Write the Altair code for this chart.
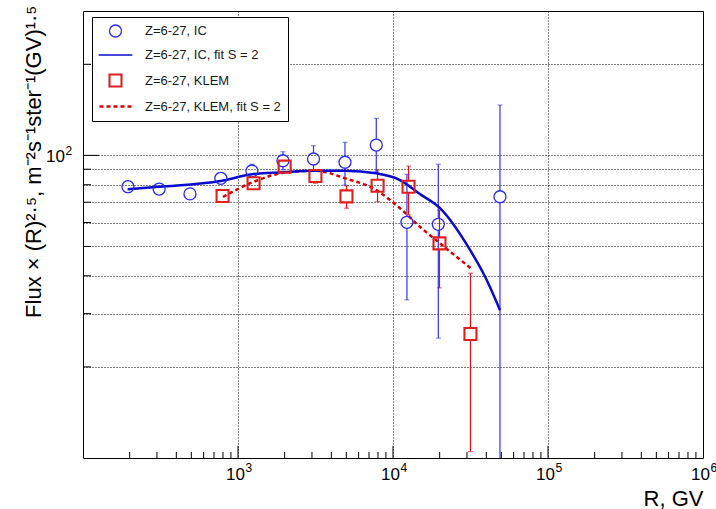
import altair as alt
import pandas as pd

# ---------------- data ----------------
ic_r = [195, 310, 490, 775, 1230, 1950, 3070, 4900, 7800, 12300, 19600, 49000]
ic_flux = [78.8, 77.4, 74.6, 84.0, 88.8, 96.0, 97.3, 94.9, 108.2, 60.1, 59.2, 73.0]
ic_lo = [77.5, 76.2, 73.5, 82.8, 85.0, 89.5, 89.5, 79.8, 88.3, 33.3, 24.9, 8.0]
ic_hi = [80.0, 78.6, 75.7, 85.2, 93.5, 102.8, 107.6, 110.5, 132.6, 86.6, 93.5, 146.7]

kl_r = [795, 1260, 2000, 3160, 5010, 7950, 12600, 19950, 31600]
kl_flux = [73.4, 80.9, 91.8, 85.5, 73.2, 79.4, 78.8, 51.2, 25.7]
kl_lo = [72.3, 79.7, 90.4, 80.9, 66.9, 70.3, 63.6, 36.5, 10.5]
kl_hi = [74.5, 82.1, 93.2, 89.5, 79.4, 89.5, 92.2, 66.0, 40.8]

fit_ic_r = [194, 309, 773, 1230, 1940, 3060, 4900, 7770, 11100, 14900, 20100, 31400, 39300, 49000]
fit_ic_flux = [77.3, 78.8, 82.3, 86.6, 87.9, 89.0, 89.0, 87.3, 82.9, 74.5, 66.9, 48.7, 39.7, 30.8]

fit_kl_r = [800, 1270, 2000, 3180, 4900, 7770, 11100, 14900, 20100, 31700]
fit_kl_flux = [72.9, 81.9, 87.7, 89.0, 84.0, 76.9, 66.9, 58.1, 51.2, 42.4]

series_names = ["Z=6-27, IC", "Z=6-27, IC, fit S = 2", "Z=6-27, KLEM", "Z=6-27, KLEM, fit S = 2"]

x_label_vals = [1000, 10000, 100000, 1000000]
x_label_base = ["10", "10", "10", "10"]
x_label_exp = ["3", "4", "5", "6"]
y_grid_vals = [20, 30, 40, 50, 60, 70, 80, 90, 100, 200]
y_label_vals = [100]
y_label_base = ["10"]
y_label_exp = ["2"]

x_major_ticks = [1000, 10000, 100000]
x_minor_ticks = [m * 10 ** e for e in range(2, 6) for m in range(2, 10)]
y_major_ticks = [100]
y_minor_ticks = [20, 30, 40, 50, 60, 70, 80, 90, 200]

# ---------------- styling ----------------
W, H = 620, 447
FONT = "Liberation Sans"
C_IC = "#2a2aee"
C_IC_FIT = "#0a0acc"
C_KL = "#dd2020"
C_KL_FIT = "#d40000"
MARK_R = 1.047  # marker radius (6 px) as a log-scale factor

line_path = "M-2.8,0H2.8"
dash_path = "M-2.67,0H-2.0M-1.5,0H-0.83M-0.33,0H0.33M0.83,0H1.5M2.0,0H2.67"

xs = alt.Scale(type="log", domain=[100, 1000000], nice=False)
ys = alt.Scale(type="log", domain=[10, 300], nice=False)

xaxis = alt.Axis(
    values=x_label_vals, labels=False, grid=True, gridDash=[1, 2], gridColor="black",
    gridWidth=1, ticks=False, domain=False,
    title="R, GV", titleFont=FONT, titleFontSize=22, titleFontWeight="normal",
    titleColor="black", titleX=W, titleY=47, titleAlign="right", titleBaseline="alphabetic",
)
yaxis = alt.Axis(
    values=y_grid_vals, labels=False, grid=True, gridDash=[1, 2], gridColor="black",
    gridWidth=1, ticks=False, domain=False,
    title="Flux × (R)²·⁵, m⁻²s⁻¹ster⁻¹(GV)¹·⁵", titleFont=FONT, titleFontSize=22,
    titleFontWeight="normal", titleColor="black", titleAngle=270, titleX=-43, titleY=-6,
    titleAlign="right", titleBaseline="alphabetic",
)


def X(f):
    return alt.X(f, type="quantitative", scale=xs, axis=xaxis)


def Y(f):
    return alt.Y(f, type="quantitative", scale=ys, axis=yaxis)


# ---------------- tables ----------------
ic_df = pd.DataFrame({"r": ic_r, "flux": ic_flux, "lo": ic_lo, "hi": ic_hi, "series": series_names[0]})
kl_df = pd.DataFrame({"r": kl_r, "flux": kl_flux, "lo": kl_lo, "hi": kl_hi, "series": series_names[2]})
pts_df = pd.concat([ic_df, kl_df], ignore_index=True)
fit_ic_df = pd.DataFrame({"r": fit_ic_r, "flux": fit_ic_flux})
fit_kl_df = pd.DataFrame({"r": fit_kl_r, "flux": fit_kl_flux})
xlab_df = pd.DataFrame({"r": x_label_vals, "base": x_label_base, "exp": x_label_exp})
ylab_df = pd.DataFrame({"flux": y_label_vals, "base": y_label_base, "exp": y_label_exp})

# ---------------- layers ----------------
base_grid = alt.Chart(pd.DataFrame({"r": [100], "flux": [100]})).mark_point(opacity=0).encode(
    x=X("r"), y=Y("flux")
)

xt_major = alt.Chart(pd.DataFrame({"r": x_major_ticks})).mark_rule(color="black", strokeWidth=1).encode(
    x=X("r"), y=alt.value(H), y2=alt.value(H - 12)
)
xt_minor = alt.Chart(pd.DataFrame({"r": x_minor_ticks})).mark_rule(color="black", strokeWidth=1).encode(
    x=X("r"), y=alt.value(H), y2=alt.value(H - 6)
)
yt_major = alt.Chart(pd.DataFrame({"flux": y_major_ticks})).mark_rule(color="black", strokeWidth=1).encode(
    y=Y("flux"), x=alt.value(0), x2=alt.value(16)
)
yt_minor = alt.Chart(pd.DataFrame({"flux": y_minor_ticks})).mark_rule(color="black", strokeWidth=1).encode(
    y=Y("flux"), x=alt.value(0), x2=alt.value(8)
)

# tick labels of the form 10^n, with real raised exponents
xl_base = alt.Chart(xlab_df).mark_text(
    align="right", baseline="alphabetic", dx=7, font=FONT, fontSize=17, color="black"
).encode(x=X("r"), y=alt.value(H + 22), text="base:N")
xl_exp = alt.Chart(xlab_df).mark_text(
    align="left", baseline="alphabetic", dx=7.5, font=FONT, fontSize=12, color="black"
).encode(x=X("r"), y=alt.value(H + 14), text="exp:N")
yl_base = alt.Chart(ylab_df).mark_text(
    align="right", baseline="alphabetic", dy=7, font=FONT, fontSize=17, color="black"
).encode(y=Y("flux"), x=alt.value(-18), text="base:N")
yl_exp = alt.Chart(ylab_df).mark_text(
    align="left", baseline="alphabetic", dy=0, dx=0.5, font=FONT, fontSize=12, color="black"
).encode(y=Y("flux"), x=alt.value(-18), text="exp:N")


def error_layers(df, color):
    up = alt.Chart(df).transform_calculate(edge=f"datum.flux * {MARK_R}").transform_filter(
        "datum.hi > datum.edge"
    )
    dn = alt.Chart(df).transform_calculate(edge=f"datum.flux / {MARK_R}").transform_filter(
        "datum.lo < datum.edge"
    )
    return [
        up.mark_rule(color=color, strokeWidth=1.2, clip=True).encode(x=X("r"), y=Y("edge:Q"), y2="hi:Q"),
        dn.mark_rule(color=color, strokeWidth=1.2, clip=True).encode(x=X("r"), y=Y("lo:Q"), y2="edge:Q"),
        up.mark_tick(color=color, orient="horizontal", size=5, thickness=1, clip=True).encode(x=X("r"), y=Y("hi:Q")),
        dn.mark_tick(color=color, orient="horizontal", size=5, thickness=1, clip=True).encode(x=X("r"), y=Y("lo:Q")),
    ]


fit_ic = alt.Chart(fit_ic_df).mark_line(color=C_IC_FIT, strokeWidth=2.5, interpolate="monotone").encode(
    x=X("r"), y=Y("flux")
)
fit_kl = alt.Chart(fit_kl_df).mark_line(
    color=C_KL_FIT, strokeWidth=2.5, strokeDash=[4, 3], interpolate="monotone"
).encode(x=X("r"), y=Y("flux"))

legend = alt.Legend(
    title=None, orient="none", legendX=9, legendY=6, direction="vertical",
    symbolSize=144, symbolOffset=9, labelOffset=22, padding=7, rowPadding=8,
    labelFont=FONT, labelFontSize=13, labelColor="#1a1a1a", strokeColor="black",
    fillColor="white",
)

points = alt.Chart(pts_df).mark_point(filled=False, size=144, opacity=1).encode(
    x=X("r"), y=Y("flux"),
    shape=alt.Shape("series:N", scale=alt.Scale(domain=series_names,
                    range=["circle", line_path, "square", dash_path]), legend=legend),
    color=alt.Color("series:N", scale=alt.Scale(domain=series_names,
                    range=[C_IC, C_IC_FIT, C_KL, C_KL_FIT]), legend=legend),
    strokeWidth=alt.StrokeWidth("series:N", scale=alt.Scale(domain=series_names,
                    range=[1.3, 2.5, 1.3, 2.5]), legend=legend),
)

layers = [base_grid, xt_major, xt_minor, yt_major, yt_minor, xl_base, xl_exp, yl_base, yl_exp]
layers += error_layers(kl_df, "#dd1111")
layers += error_layers(ic_df, "#3333ee")
layers += [fit_kl, fit_ic, points]

chart = alt.layer(*layers).properties(
    width=W, height=H, autosize="none",
    padding={"left": 83, "top": 11, "right": 13, "bottom": 51},
    background="white",
).configure_view(stroke="black", strokeWidth=1)

chart.save("out.html", embed_options={"renderer": "svg", "actions": False})
